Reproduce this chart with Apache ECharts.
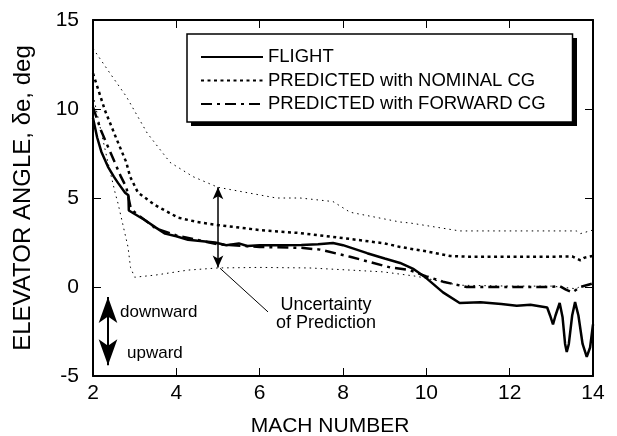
<!DOCTYPE html>
<html>
<head>
<meta charset="utf-8">
<script src="https://cdn.jsdelivr.net/npm/echarts@6/dist/echarts.min.js"></script>
<style>html,body{margin:0;padding:0;background:#fff}#c{width:617px;height:436px}</style>
</head>
<body>
<div id="c"></div>
<script>
// ---- data ----
const xTicks = [2, 4, 6, 8, 10, 12, 14];
const yTicks = [-5, 0, 5, 10, 15];

const flightMach = [2.0, 2.1, 2.2, 2.36, 2.5, 2.6, 2.77, 2.85, 2.86, 3.0, 3.25, 3.5, 3.73, 4.0, 4.28, 4.93, 5.2, 5.5, 5.7, 6.0, 6.5, 7.0, 7.4, 7.76, 8.0, 8.58, 9.0, 9.37, 9.7, 10.0, 10.4, 10.8, 11.3, 11.8, 12.17, 12.5, 12.9, 12.97, 13.04, 13.1, 13.2, 13.27, 13.33, 13.37, 13.42, 13.5, 13.57, 13.65, 13.75, 13.85, 13.93, 14.0];
const flight     = [9.5, 8.4, 7.6, 6.75, 6.2, 5.85, 5.3, 5.15, 4.3, 4.1, 3.75, 3.35, 3.0, 2.85, 2.65, 2.5, 2.35, 2.45, 2.3, 2.35, 2.35, 2.36, 2.4, 2.47, 2.35, 1.9, 1.6, 1.35, 1.0, 0.5, -0.3, -0.9, -0.85, -0.95, -1.05, -1.0, -1.15, -1.6, -2.1, -1.6, -0.9, -1.7, -3.2, -3.65, -3.2, -1.6, -0.85, -1.6, -3.2, -3.93, -3.4, -2.1];

const nominalMach = [2.0, 2.29, 2.55, 2.8, 2.89, 3.08, 3.49, 4.04, 4.5, 4.93, 6.0, 6.97, 8.0, 9.0, 9.37, 10.0, 10.57, 11.0, 12.0, 13.0, 13.5, 13.7, 13.8, 14.0];
const nominal     = [12.0, 9.9, 8.4, 7.0, 6.2, 5.3, 4.6, 3.9, 3.65, 3.5, 3.2, 3.03, 2.75, 2.45, 2.25, 2.0, 1.74, 1.7, 1.7, 1.7, 1.72, 1.5, 1.65, 1.75];

const forwardMach = [2.0, 2.19, 2.43, 2.67, 2.8, 2.9, 3.0, 3.5, 4.0, 5.0, 6.0, 7.0, 7.45, 8.17, 9.13, 9.6, 10.0, 10.4, 10.97, 12.0, 12.97, 13.2, 13.35, 13.5, 13.7, 14.0];
const forward     = [10.1, 8.8, 7.5, 6.2, 5.6, 4.5, 4.2, 3.3, 2.9, 2.4, 2.25, 2.2, 2.1, 1.7, 1.1, 0.95, 0.6, 0.3, 0.0, 0.0, 0.0, 0.05, -0.15, -0.3, 0.0, 0.2];

const upperMach = [2.0, 2.41, 2.8, 3.3, 3.85, 4.4, 5.0, 6.4, 6.97, 7.76, 8.17, 9.37, 9.6, 10.8, 12.0, 13.6, 13.7, 14.0];
const upper     = [13.4, 12.0, 10.7, 8.65, 7.0, 6.2, 5.6, 5.0, 5.0, 4.8, 4.2, 3.65, 3.6, 3.15, 3.15, 3.15, 3.0, 3.2];

const lowerMach = [2.0, 2.33, 2.53, 2.6, 2.84, 2.9, 3.0, 3.5, 4.28, 5.0, 6.0, 7.2, 7.76, 8.17, 8.96, 9.77, 10.57, 10.8, 12.0, 13.0, 13.6, 13.7, 14.0];
const lower     = [10.8, 7.3, 5.3, 4.7, 2.25, 1.1, 0.55, 0.67, 0.95, 1.07, 1.1, 1.07, 1.0, 0.95, 0.85, 0.6, 0.2, 0.1, 0.05, 0.05, -0.1, 0.05, 0.1];

const seriesNames = ['FLIGHT', 'PREDICTED with NOMINAL CG', 'PREDICTED with FORWARD CG'];

// annotation anchor points (data coordinates)
const uncertArrow = [[5, 5.6], [5, 1.1]];
const uncertLeader = [[5.05, 1.05], [6.2, -1.4]];
const dirArrow = [[2.36, -0.56], [2.36, -4.4]];

const FONT = '"Liberation Sans", Arial, Helvetica, sans-serif';

function pairs(xs, ys) { return xs.map((x, i) => [x, ys[i]]); }

const chart = echarts.init(document.getElementById('c'), null, {renderer: 'canvas'});

const axisCommon = {
  type: 'value',
  axisLine: {show: true, onZero: false, lineStyle: {color: '#000', width: 2}},
  axisTick: {show: true, inside: true, length: 8, lineStyle: {color: '#000', width: 1}},
  splitLine: {show: false}
};

chart.setOption({
  animation: false,
  backgroundColor: '#fff',
  color: ['#000'],
  grid: {left: 93, right: 24, top: 20, bottom: 60, containLabel: false, outerBoundsMode: 'none'},
  legend: {
    data: seriesNames,
    orient: 'vertical',
    left: 187, top: 34,
    padding: [13, 27, 8, 13],
    itemWidth: 62, itemHeight: 14, itemGap: 3.5,
    itemStyle: {opacity: 0},
    textStyle: {fontFamily: FONT, fontSize: 18.5, color: '#000', lineHeight: 20},
    backgroundColor: '#fff',
    borderColor: '#000', borderWidth: 1.5,
    selectedMode: false,
    z: 10
  },
  xAxis: [
    Object.assign({}, axisCommon, {
      min: xTicks[0], max: xTicks[xTicks.length - 1], interval: 2, position: 'bottom',
      axisLabel: {fontFamily: FONT, fontSize: 21, color: '#000', margin: 7},
      name: 'MACH NUMBER', nameLocation: 'middle', nameGap: 40,
      nameTextStyle: {fontFamily: FONT, fontSize: 21, color: '#000', padding: [0, 26, 0, 0]}
    }),
    Object.assign({}, axisCommon, {
      min: xTicks[0], max: xTicks[xTicks.length - 1], interval: 2, position: 'top',
      axisLabel: {show: false}
    })
  ],
  yAxis: [
    Object.assign({}, axisCommon, {
      min: yTicks[0], max: yTicks[yTicks.length - 1], interval: 5, position: 'left',
      axisLabel: {fontFamily: FONT, fontSize: 21, color: '#000', margin: 14},
      name: 'ELEVATOR ANGLE, δe, deg', nameLocation: 'middle', nameGap: 58,
      nameTextStyle: {fontFamily: FONT, fontSize: 24, color: '#000'}
    }),
    Object.assign({}, axisCommon, {
      min: yTicks[0], max: yTicks[yTicks.length - 1], interval: 5, position: 'right',
      axisLabel: {show: false}
    })
  ],
  series: [
    {name: 'upper bound', type: 'line', symbol: 'none', silent: true, data: pairs(upperMach, upper),
     itemStyle: {color: '#000'}, lineStyle: {color: '#000', width: 1, type: [1.5, 4]}},
    {name: 'lower bound', type: 'line', symbol: 'none', silent: true, data: pairs(lowerMach, lower),
     itemStyle: {color: '#000'}, lineStyle: {color: '#000', width: 1, type: [1.5, 4]}},
    {name: seriesNames[1], type: 'line', symbol: 'none', data: pairs(nominalMach, nominal),
     itemStyle: {color: '#000'}, lineStyle: {color: '#000', width: 2.5, type: [3, 3.5]}},
    {name: seriesNames[2], type: 'line', symbol: 'none', data: pairs(forwardMach, forward),
     itemStyle: {color: '#000'}, lineStyle: {color: '#000', width: 2.5, type: [11, 5, 3, 5]}},
    {name: seriesNames[0], type: 'line', symbol: 'none', data: pairs(flightMach, flight),
     itemStyle: {color: '#000'}, lineStyle: {color: '#000', width: 2.5, type: 'solid'}},
    {name: 'annotations', type: 'line', symbol: 'none', data: [], silent: true,
     markLine: {
       silent: true, animation: false, label: {show: false},
       data: [
         [{coord: uncertArrow[0], symbol: 'arrow', symbolSize: [8, 12], itemStyle: {color: '#000'}, lineStyle: {color: '#000', width: 1.5, type: 'solid'}},
          {coord: uncertArrow[1], symbol: 'arrow', symbolSize: [8, 12]}],
         [{coord: uncertLeader[0], symbol: 'none', lineStyle: {color: '#000', width: 1, type: 'solid'}},
          {coord: uncertLeader[1], symbol: 'none'}],
         [{coord: dirArrow[0], symbol: 'arrow', symbolSize: [14, 26], itemStyle: {color: '#000'}, lineStyle: {color: '#000', width: 2, type: 'solid'}},
          {coord: dirArrow[1], symbol: 'arrow', symbolSize: [14, 26]}]
       ]
     }}
  ],
  graphic: [
    {type: 'rect', z: 1, shape: {x: 191, y: 38, width: 386, height: 88}, style: {fill: '#000'}},
    {type: 'text', x: 326, y: 305, style: {text: 'Uncertainty', font: '18px ' + FONT, fill: '#000', align: 'center', verticalAlign: 'middle'}},
    {type: 'text', x: 326, y: 323, style: {text: 'of Prediction', font: '18px ' + FONT, fill: '#000', align: 'center', verticalAlign: 'middle'}},
    {type: 'text', x: 120, y: 312, style: {text: 'downward', font: '17px ' + FONT, fill: '#000', align: 'left', verticalAlign: 'middle'}},
    {type: 'text', x: 127, y: 353, style: {text: 'upward', font: '17px ' + FONT, fill: '#000', align: 'left', verticalAlign: 'middle'}}
  ]
});
</script>
</body>
</html>
